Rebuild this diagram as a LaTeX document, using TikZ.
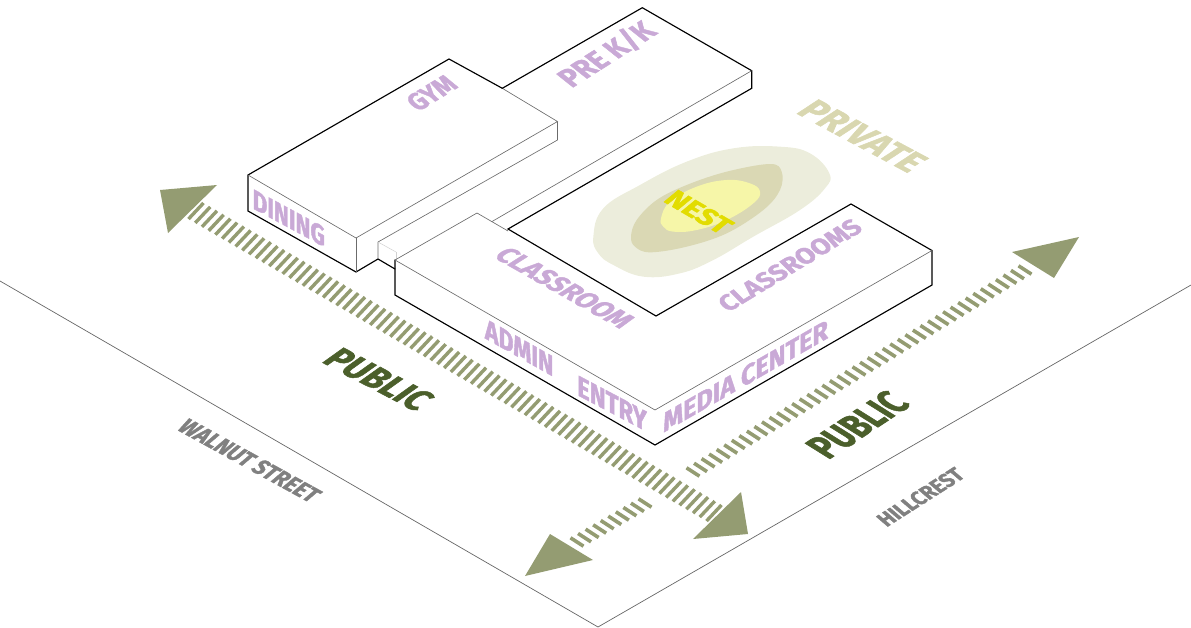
\documentclass[tikz,border=0pt]{standalone}
\usepackage{fontspec}
\setmainfont{Fira Sans}
\newfontfamily\labfont[FakeStretch=0.9,BoldFeatures={FakeBold=1.6,FakeStretch=0.9}]{Fira Sans}
\definecolor{lilac}{HTML}{C9A9D6}
\definecolor{dkgreen}{HTML}{4B5F2B}
\definecolor{hatchc}{HTML}{949C72}
\definecolor{privc}{HTML}{D9D7B0}
\definecolor{nestc}{HTML}{E2DC00}
\definecolor{streetc}{HTML}{808080}
\definecolor{blobA}{HTML}{ECEDDC}
\definecolor{blobB}{HTML}{DAD8B4}
\definecolor{blobC}{HTML}{F6F6A8}
\tikzset{
  blackline/.style={black,line width=1.15pt,line join=miter,line cap=round},
  grayline/.style={draw=black!58,line width=0.65pt},
  faintline/.style={draw=black!18,line width=0.5pt},
  streetline/.style={draw=black!60,line width=0.7pt},
  headshape/.style={fill=hatchc,draw=none},
  isolabel/.style={transform shape,anchor=base west,inner sep=0pt,outer sep=0pt}
}
\newdimen\txw
\newdimen\txh
\newsavebox{\txbox}
% name, colour, start x,y, end x,y, up x,y (with text after)
\newcommand{\isot}[9]{%
  \setbox\txbox=\hbox{\pgfinterruptpicture\labfont\bfseries #9\endpgfinterruptpicture}\txw=\wd\txbox
  \setbox\txbox=\hbox{\pgfinterruptpicture\labfont\bfseries H\endpgfinterruptpicture}\txh=\ht\txbox
  \pgfmathsetmacro{\ma}{(#5-#3)/\txw}%
  \pgfmathsetmacro{\mb}{-(#6-#4)/\txw}%
  \pgfmathsetmacro{\mc}{#7/\txh}%
  \pgfmathsetmacro{\md}{-(#8)/\txh}%
  \begin{scope}[shift={(#3,#4)},cm={\ma,\mb,\mc,\md,(0,0)}]
    \node[isolabel,text=#2,font=\labfont\bfseries] (#1) at (0,0) {#9};
  \end{scope}}
% from centre (#1,#2) to centre (#3,#4), #5 intervals, half vector (#6,#7), width #8
\newcommand{\hatchbars}[8]{%
  \foreach \i in {0,...,#5}{%
    \pgfmathsetmacro{\cx}{#1+(#3-#1)/#5*\i}%
    \pgfmathsetmacro{\cy}{#2+(#4-#2)/#5*\i}%
    \draw[draw=hatchc,line width=#8pt] (\cx-#6,\cy-#7) -- (\cx+#6,\cy+#7);
  }}
\begin{document}
\begin{tikzpicture}[x=1pt,y=-1pt]
\useasboundingbox (0,0) rectangle (1191,627);
% street edges
\draw[streetline] (0,281) -- (598,627) -- (1191,285);
% blobs
\begin{scope}[shift={(500,90)},x=0.33333pt,y=-0.33333pt]
\fill[blobA] plot[smooth cycle,tension=0.7] coordinates {(280,440)(310,355)(420,285)(560,215)(700,175)(840,170)(930,190)(988,250)(975,295)(900,360)(760,440)(640,510)(540,550)(430,560)(340,525)(295,490)};
\fill[blobB] plot[smooth cycle,tension=0.6] coordinates {(393,440)(410,390)(470,330)(560,285)(680,245)(810,222)(845,245)(840,300)(790,360)(680,430)(560,470)(450,487)(405,470)};
\fill[blobC] plot[smooth cycle,tension=0.7] coordinates {(483,385)(510,335)(590,290)(680,270)(750,280)(780,305)(760,340)(680,390)(590,420)(520,425)(490,410)};
\end{scope}
% gym
\draw[blackline] (502.3,88.3) -- (449,59) -- (248,175) -- (248,211) -- (356,272) -- (378,259) -- (395,269);
\draw[grayline] (502.3,88.3) -- (557.5,121.5) -- (356,238) -- (248,175);
\draw[grayline] (356,238) -- (356,272);
\draw[grayline] (557.5,121.5) -- (557.5,140) -- (378,242) -- (378,259);
\draw[faintline] (378,242) -- (396,252);
\draw[faintline] (396,260) -- (396,252);
% pre k/k
\draw[blackline] (502.3,88.3) -- (642.3,7.7) -- (751.7,70.7) -- (751.7,88.3) -- (508,229) -- (656,316) -- (851,204) -- (932,250.5) -- (932,285) -- (655,445) -- (395,295) -- (395,260);
\draw[grayline] (751.7,70.7) -- (491.7,221.7);
% classroom block
\draw[grayline] (508,231) -- (477,213) -- (395,260) -- (655,410) -- (932,250.5);
% hatches
\hatchbars{196}{211}{714}{513}{77}{7.5}{-8}{3.4}
\hatchbars{693}{472}{1025}{270}{44}{-6.5}{-4.2}{3.6}
\hatchbars{645}{503}{577}{542}{9}{-6.5}{-4.2}{3.6}
% arrow heads
\fill[headshape] (160,190) -- (217,185) -- (168,233) -- cycle;
\fill[headshape] (741,492) -- (748,534) -- (693,539) -- cycle;
\fill[headshape] (1012,252) -- (1079,237) -- (1054,278) -- cycle;
\fill[headshape] (550,534) -- (593,560) -- (525,576) -- cycle;
% labels
\isot{gym}{lilac}{418}{112}{459}{87}{-14}{-13}{GYM}
\isot{prek}{lilac}{571.7}{88.3}{658.3}{33.3}{-16.7}{-13.3}{PRE K/K}
\isot{dining}{lilac}{252.7}{208.3}{325}{247.3}{0}{-19.5}{DINING}
\isot{classroom}{lilac}{492.7}{256.7}{620}{329}{16.5}{-10.5}{CLASSROOM}
\isot{classrooms}{lilac}{728}{312.7}{864}{230}{-12.3}{-12.3}{CLASSROOMS}
\isot{admin}{lilac}{485}{338.3}{553.3}{376.7}{0}{-20}{ADMIN}
\isot{entry}{lilac}{577.3}{395}{646.7}{431.7}{0}{-20}{ENTRY}
\isot{media}{lilac}{663.3}{432.7}{828}{338}{0}{-19}{MEDIA CENTER}
\isot{private}{privc}{795}{112.7}{908.3}{173.3}{21.7}{-14.3}{PRIVATE}
\isot{nest}{nestc}{662.3}{201}{720.7}{235}{14.5}{-12}{NEST}
\isot{publicl}{dkgreen}{320.7}{361.7}{415.7}{411.7}{21}{-15}{PUBLIC}
\isot{publicr}{dkgreen}{828.3}{460}{911.7}{405}{-25}{-15.6}{PUBLIC}
\isot{walnut}{streetc}{176}{429.3}{310}{503}{13}{-11}{WALNUT STREET}
\isot{hillcrest}{streetc}{886.7}{527.3}{966}{476.7}{-11.7}{-10}{HILLCREST}
\end{tikzpicture}
\end{document}
